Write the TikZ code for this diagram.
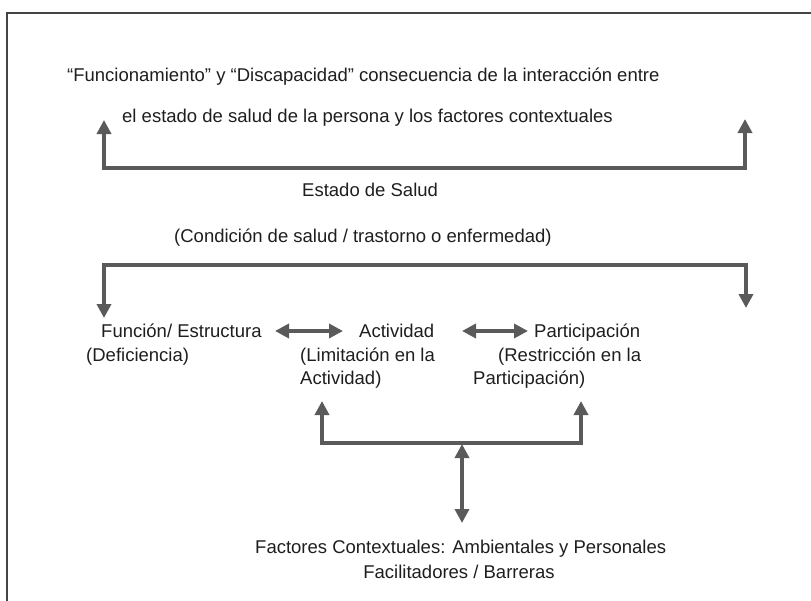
\documentclass[tikz,border=0pt]{standalone}
\usepackage{fontspec}
\setmainfont{Liberation Sans}
\usetikzlibrary{arrows.meta}
\definecolor{arrgray}{HTML}{5A5A5A}
\definecolor{framegray}{HTML}{444444}
\definecolor{txt}{HTML}{1E1E1E}
\tikzset{
  lbl/.style={anchor=base west, inner sep=0pt, text=txt, font=\fontsize{18.5}{22}\selectfont},
  lblc/.style={anchor=base, inner sep=0pt, text=txt, font=\fontsize{18.5}{22}\selectfont},
  conn/.style={draw=arrgray, line width=4pt, line join=miter},
  tipa/.tip={Triangle[length=14pt,width=14pt]},
  both/.style={conn, tipa-tipa},
}
\begin{document}
\begin{tikzpicture}[x=1pt,y=-1pt]
\useasboundingbox (0,0) rectangle (811,600);
% frame (cut by the page edges)
\coordinate (fbl) at (7,602);
\coordinate (ftl) at (7,13);
\coordinate (ftr) at (813,13);
\draw[framegray, line width=1.6pt] (fbl) -- (ftl) -- (ftr);

% texts
\node[lbl] (t1) at (67,81) {“Funcionamiento” y “Discapacidad” consecuencia de la interacción entre};
\node[lbl] (t2) at (122,122) {el estado de salud de la persona y los factores contextuales};
\node[lbl] (estado) at (302,196) {Estado de Salud};
\node[lbl] (cond) at (174,242) {(Condición de salud / trastorno o enfermedad)};

\node[lbl] (func) at (101,337) {Función/ Estructura};
\node[lbl] (defi) at (86,361) {(Deficiencia)};
\node[lbl] (act) at (359,337) {Actividad};
\node[lbl] (lim) at (300,361) {(Limitación en la};
\node[lbl] (act2) at (300,384) {Actividad)};
\node[lbl] (part) at (534,337) {Participación};
\node[lbl] (restr) at (498,361) {(Restricción en la};
\node[lbl] (part2) at (473,384) {Participación)};

\node[lbl] (fact) at (255,553) {Factores Contextuales: Ambientales y Personales};
\node[lblc] (facil) at (459,578) {Facilitadores / Barreras};

% top bracket
\coordinate (a1) at (104,120);
\coordinate (a2) at (104,168);
\coordinate (a3) at (745,168);
\coordinate (a4) at (745,119);
\draw[both] (a1) -- (a2) -- (a3) -- (a4);

% health condition bracket
\coordinate (b1) at (104,318);
\coordinate (b2) at (104,265);
\coordinate (b3) at (746,265);
\coordinate (b4) at (746,308);
\draw[both] (b1) -- (b2) -- (b3) -- (b4);

% horizontal double arrows
\coordinate (h1) at (275,331);
\coordinate (h2) at (343,331);
\coordinate (h3) at (462,331);
\coordinate (h4) at (528,331);
\draw[both] (h1) -- (h2);
\draw[both] (h3) -- (h4);

% contextual factors bracket
\coordinate (c1) at (322,401);
\coordinate (c2) at (322,443);
\coordinate (c3) at (581,443);
\coordinate (c4) at (581,401);
\draw[both] (c1) -- (c2) -- (c3) -- (c4);
\coordinate (d1) at (462,444);
\coordinate (d2) at (462,523);
\draw[both] (d1) -- (d2);
\end{tikzpicture}
\end{document}
